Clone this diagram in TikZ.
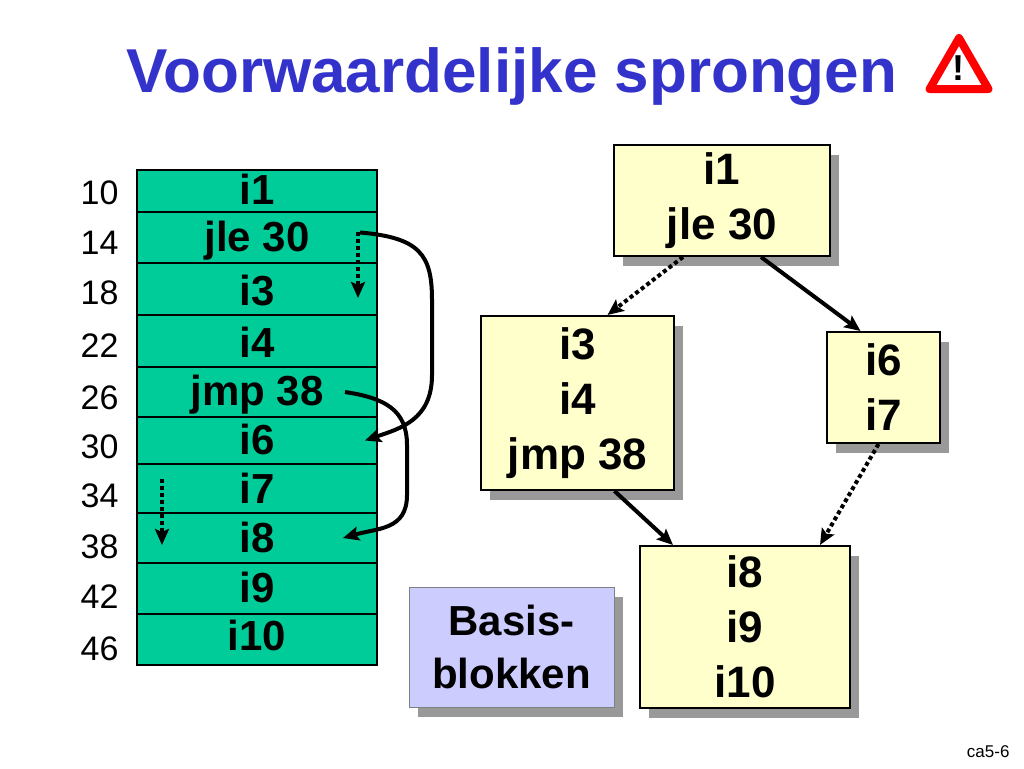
\documentclass[tikz,border=0pt]{standalone}
\usepackage{fontspec}
\setmainfont{Liberation Sans}
\usetikzlibrary{arrows.meta,shadows,shapes.geometric,positioning}
\definecolor{titleblue}{RGB}{51,51,204}
\definecolor{cellgreen}{RGB}{0,204,153}
\definecolor{boxyellow}{RGB}{255,255,204}
\definecolor{basisblue}{RGB}{204,204,255}
\definecolor{shadowgrey}{RGB}{153,153,153}
\definecolor{warnred}{RGB}{255,0,0}
\tikzset{x=1pt, y=-1pt, % one unit is one pixel of the slide, y runs downwards
>={Stealth[length=16pt,width=14pt,inset=3pt]}, % makes the arrow heads bold
row/.style={draw, line width=2.5pt, fill=cellgreen, minimum width=240pt, inner sep=0pt, outer sep=0pt, anchor=north west}, % one memory cell
ins/.style={font=\fontsize{42}{50}\selectfont\bfseries, anchor=base}, % instruction in a cell
addr/.style={font=\fontsize{34}{40}\selectfont, anchor=base east}, % address left of a cell
block/.style={draw, line width=2pt, fill=boxyellow, align=center, inner sep=0pt,
  font=\fontsize{44}{55}\selectfont\bfseries,
  drop shadow={shadow xshift=9pt, shadow yshift=-10pt, fill=shadowgrey, opacity=1}}, % a basic block
jump/.style={->, line width=4pt}, % taken branch
fall/.style={->, line width=4pt, dash pattern=on 4pt off 3pt}, % falls through
warn/.style={regular polygon, regular polygon sides=3, draw=warnred, line width=8pt, line join=round, fill=white, minimum size=68pt, inner sep=0pt},
}
\begin{document}
\begin{tikzpicture}
\useasboundingbox (0,0) rectangle (1024,768);
\node[anchor=base west, text=titleblue, font=\fontsize{62}{70}\selectfont\bfseries] (title) at (123,92) {Voorwaardelijke sprongen};
\node[warn] (warn) at (959,72) {};
\node[font=\fontsize{36}{36}\selectfont\bfseries, anchor=base] (excl) at (958,81) {!};

% the memory cells
\foreach \adr/\ya/\yb in {10/170/212, 14/212/263, 18/263/315, 22/315/367, 26/367/417,
  30/417/464, 34/464/513, 38/513/563, 42/563/614, 46/614/665}
  \node[row, minimum height={(\yb-\ya)*1pt}] (r\adr) at (137,\ya) {};
\foreach \adr/\code/\yi/\yl in {10/i1/204/204, 14/jle 30/251/254, 18/i3/305/304, 22/i4/357/357,
  26/jmp 38/405/409, 30/i6/454/458, 34/i7/503/507, 38/i8/552/558, 42/i9/602/608, 46/i10/650/660}
{
  \node[ins] (t\adr) at (257,\yi) {\code};
  \node[addr] (a\adr) at (122,\yl) {\adr};
}
\draw[jump] ([xshift=-17pt,yshift=5pt]r14.east) .. controls +(60,5) and +(0,-45) .. (432,300)
  -- (432,375) .. controls +(0,45) and +(35,-12) .. ([xshift=-12pt]r30.east);
\draw[jump] ([xshift=-32pt]r26.east) .. controls +(40,6) and +(0,-35) .. (407,445)
  -- (407,495) .. controls +(0,35) and +(35,-10) .. ([xshift=-34pt]r38.east);
\draw[fall] ([xshift=-19pt,yshift=6pt]r14.east) -- ([xshift=-19pt,yshift=-9pt]r18.east);
\draw[fall] ([xshift=25pt,yshift=10pt]r34.west) -- ([xshift=25pt,yshift=-7pt]r38.west);

% the basic blocks
\node[block, minimum width=216pt, minimum height=111pt] (b1) at (722,200.5) {i1\\jle 30};
\node[block, minimum width=193pt, minimum height=174pt] (b3) at (577.5,403) {i3\\i4\\jmp 38};
\node[block, minimum width=113pt, minimum height=111pt] (b6) at (883.5,387.5) {i6\\i7};
\node[block, minimum width=210pt, minimum height=162pt] (b8) at (745,627) {i8\\i9\\i10};
\node[block, fill=basisblue, draw=gray, line width=1pt, font=\fontsize{42}{53}\selectfont\bfseries,
  minimum width=205pt, minimum height=120pt] (basis) at (511.5,647) {Basis-\\blokken};
\draw[fall] ([xshift=-39pt]b1.south) -- ([xshift=30pt]b3.north);
\draw[jump] ([xshift=39pt]b1.south) -- ([xshift=-23pt]b6.north);
\draw[jump] ([xshift=37pt]b3.south) -- ([xshift=-72pt]b8.north);
\draw[fall] ([xshift=-5pt]b6.south) -- ([xshift=75pt]b8.north);

\node[font=\fontsize{17}{20}\selectfont, anchor=base east] (page) at (1013,757) {ca5-6};
\end{tikzpicture}
\end{document}
